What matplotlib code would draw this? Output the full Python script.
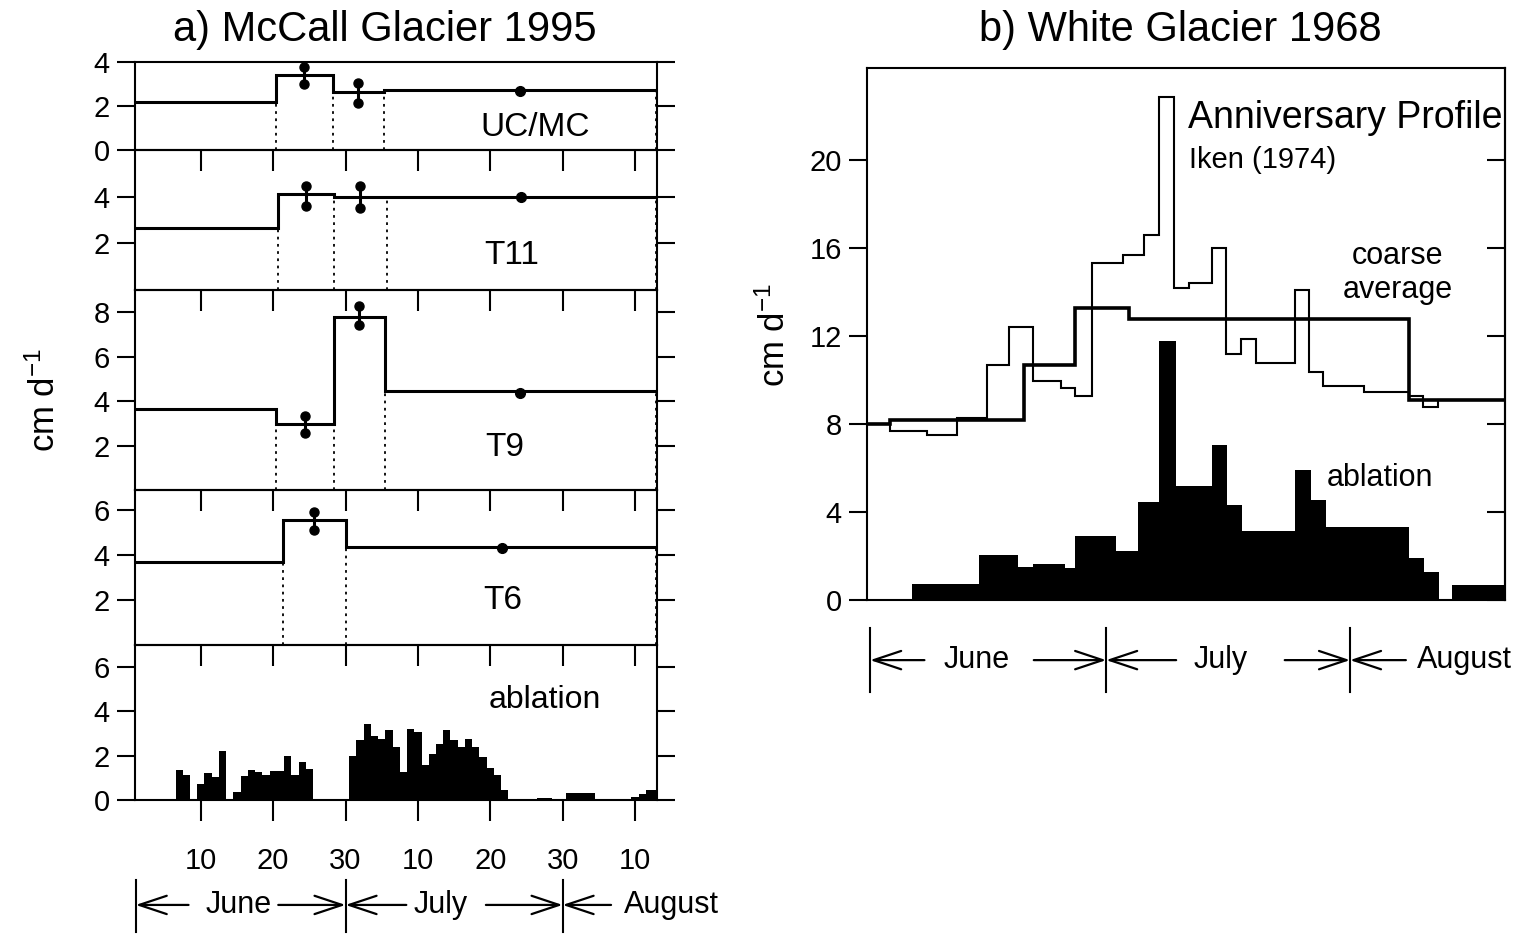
import numpy as np
import matplotlib
matplotlib.use('Agg')
import matplotlib.pyplot as plt
from matplotlib import transforms

plt.rcParams['font.family'] = ['Liberation Sans', 'DejaVu Sans']
plt.rcParams['mathtext.fontset'] = 'custom'
plt.rcParams['mathtext.rm'] = 'Liberation Sans'
plt.rcParams['mathtext.default'] = 'regular'

# ---------------- a) McCall Glacier 1995 (day 1 = 1 June) ----------------
day_ticks = [10, 20, 30, 40, 50, 60, 70]
day_labels = ['10', '20', '30', '10', '20', '30', '10']
month_edges_a = [1, 30, 60]

# surface speed between surveys, cm/d
ucmc_edges = [0.9, 20.4, 28.2, 35.3, 72.9]
ucmc_speed = [2.18, 3.4, 2.65, 2.72]
ucmc_err_x = [24.3, 31.75]
ucmc_err_lo = [3.0, 2.15]
ucmc_err_hi = [3.77, 3.03]
ucmc_dot = (54.1, 2.69)

t11_edges = [0.9, 20.6, 28.4, 35.7, 72.9]
t11_speed = [2.64, 4.1, 4.0, 4.0]
t11_err_x = [24.5, 32.0]
t11_err_lo = [3.61, 3.51]
t11_err_hi = [4.47, 4.47]
t11_dot = (54.3, 4.0)

t9_edges = [0.9, 20.4, 28.4, 35.4, 72.9]
t9_speed = [3.65, 2.97, 7.8, 4.44]
t9_err_x = [24.4, 31.9]
t9_err_lo = [2.55, 7.43]
t9_err_hi = [3.35, 8.29]
t9_dot = (54.1, 4.38)

t6_edges = [0.9, 21.3, 30.1, 72.9]
t6_speed = [3.7, 5.56, 4.37]
t6_err_x = [25.7]
t6_err_lo = [5.11]
t6_err_hi = [5.93]
t6_dot = (51.6, 4.33)

site_names = ['UC/MC', 'T11', 'T9', 'T6']
site_ylims = [4, 6, 9, 6.9]
site_yticks = [[0, 2, 4], [2, 4], [2, 4, 6, 8], [2, 4, 6]]

# daily ablation, cm/d
ablation_a_days = np.arange(1, 74)
ablation_a = [0, 0, 0, 0, 0, 0, 1.35, 1.15, 0, 0.72,
              1.2, 1.05, 2.2, 0, 0.35, 1.08, 1.35, 1.27, 1.15, 1.32,
              1.32, 2.0, 1.12, 1.7, 1.42, 0, 0, 0, 0, 0,
              1.98, 2.7, 3.45, 2.9, 2.77, 3.18, 2.4, 1.27, 3.22, 3.05,
              1.57, 2.1, 2.55, 3.15, 2.7, 2.4, 2.74, 2.4, 1.95, 1.45,
              1.12, 0.45, 0, 0, 0, 0, 0.07, 0.07, 0, 0,
              0.3, 0.33, 0.33, 0.3, 0, 0, 0, 0, 0, 0.15,
              0.27, 0.45, 0.45]

# ---------------- b) White Glacier 1968 (0 = 1 June) ----------------
month_edges_b = [0, 30, 61]

profile_edges = [-0.4, 2.48, 7.26, 11.0, 14.8, 17.7, 20.7, 24.2, 26.1, 28.2,
                 32.1, 34.8, 36.7, 38.6, 40.5, 43.5, 45.2, 47.2, 49.0, 54.0,
                 55.8, 57.6, 62.8, 68.5, 70.3, 72.2, 80.7]
profile_speed = [8.0, 7.7, 7.5, 8.3, 10.7, 12.4, 9.97, 9.63, 9.3, 15.35,
                 15.7, 16.6, 22.9, 14.2, 14.4, 16.0, 11.2, 11.86, 10.76, 14.1,
                 10.35, 9.75, 9.45, 9.3, 8.8, 9.08]

coarse_edges = [-0.4, 2.48, 19.6, 26.1, 32.9, 68.5, 80.7]
coarse_speed = [8.0, 8.2, 10.7, 13.3, 12.8, 9.1]

ablation_b_edges = [5.36, 13.9, 18.8, 20.7, 24.75, 26.1, 31.3, 34.0, 36.7, 38.9,
                    43.5, 45.4, 47.3, 54.0, 56.0, 57.9, 68.5, 70.4, 72.3, 73.9, 80.7]
ablation_b = [0.72, 2.05, 1.5, 1.65, 1.46, 2.9, 2.23, 4.44, 11.8, 5.2,
              7.05, 4.34, 3.16, 5.9, 4.56, 3.3, 1.91, 1.28, 0.0, 0.68]

sites = [
    dict(edges=ucmc_edges, speed=ucmc_speed, ex=ucmc_err_x, lo=ucmc_err_lo, hi=ucmc_err_hi, dot=ucmc_dot),
    dict(edges=t11_edges, speed=t11_speed, ex=t11_err_x, lo=t11_err_lo, hi=t11_err_hi, dot=t11_dot),
    dict(edges=t9_edges, speed=t9_speed, ex=t9_err_x, lo=t9_err_lo, hi=t9_err_hi, dot=t9_dot),
    dict(edges=t6_edges, speed=t6_speed, ex=t6_err_x, lo=t6_err_lo, hi=t6_err_hi, dot=t6_dot),
]
site_label_pos = [(0.766, 0.25), (0.722, 0.25), (0.709, 0.21), (0.705, 0.284)]

W, H = 1530, 935
fig = plt.figure(figsize=(W / 100, H / 100), dpi=100)


def month_bracket(ax, edges, names, name_x, arrows, y, bar_lo, bar_hi):
    trans = transforms.blended_transform_factory(ax.transData, ax.transAxes)
    for e in edges:
        ax.plot([e, e], [bar_lo, bar_hi], transform=trans, color='k', lw=1.5, clip_on=False)
    for name, x in zip(names, name_x):
        ax.text(x, y, name, transform=trans, ha='center', va='center', fontsize=22, clip_on=False)
    for x0, x1 in arrows:
        ax.annotate('', xy=(x1, y), xytext=(x0, y), xycoords=trans, textcoords=trans,
                    arrowprops=dict(arrowstyle='->,head_length=0.9,head_width=0.3', lw=1.6,
                                    color='k', shrinkA=0, shrinkB=0, mutation_scale=22),
                    annotation_clip=False)


# ---- left stack ----
gs = fig.add_gridspec(5, 1, left=135 / W, right=657 / W, top=1 - 62 / H, bottom=1 - 800 / H,
                      height_ratios=[88, 140, 200, 155, 155], hspace=0)
axes_a = [fig.add_subplot(gs[i]) for i in range(5)]

for i, ax in enumerate(axes_a):
    ax.patch.set_visible(False)
    ax.set_xlim(0.9, 73.05)
    ax.set_xticks(day_ticks)
    for s in ax.spines.values():
        s.set_linewidth(1.5)
    ax.tick_params(axis='y', direction='out', left=True, right=True, length=13, width=1.5,
                   labelsize=21, pad=5)
    ax.tick_params(axis='x', direction='out', bottom=True, top=False, length=15, width=1.5,
                   labelbottom=(i == 4), labelsize=21, pad=19)

for ax, site, name, ytop, yt, lp in zip(axes_a[:4], sites, site_names, site_ylims,
                                        site_yticks, site_label_pos):
    v = site['speed']
    ax.stairs(v, site['edges'], baseline=None, color='k', lw=2.2)
    tops = [min(v[k], v[k + 1]) if k + 1 < len(v) else v[k] for k in range(len(v))]
    ax.vlines(site['edges'][1:], 0, tops, colors='k', linestyles=(0, (1.5, 2.5)), lw=1.3)
    for x, lo, hi in zip(site['ex'], site['lo'], site['hi']):
        ax.plot([x, x], [lo, hi], '-o', color='k', lw=2.2, ms=6.5)
    ax.plot(*site['dot'], 'o', color='k', ms=7)
    ax.set_ylim(0, ytop)
    ax.set_yticks(yt)
    ax.text(lp[0], lp[1], name, transform=ax.transAxes, ha='center', va='center', fontsize=24)

ax_abl = axes_a[4]
ax_abl.bar(ablation_a_days, ablation_a, width=1.0, color='k', linewidth=0)
ax_abl.set_ylim(0, 7)
ax_abl.set_yticks([0, 2, 4, 6])
ax_abl.set_xticklabels(day_labels)
ax_abl.text(0.785, 0.645, 'ablation', transform=ax_abl.transAxes, ha='center', va='center', fontsize=23)

month_bracket(ax_abl, month_edges_a, ['June', 'July', 'August'], [15.2, 43.1, 75.1],
              [(8.3, 1), (20.7, 30), (38.4, 30), (49.4, 60), (66.7, 60)],
              y=-0.677, bar_lo=-0.516, bar_hi=-0.852)

fig.text(385 / W, 1 - 30 / H, 'a) McCall Glacier 1995', ha='center', va='center', fontsize=30)
fig.text(45 / W, 1 - 400 / H, 'cm d$^{-1}$', rotation=90, ha='center', va='center', fontsize=25)

# ---- right panel ----
ax_b = fig.add_axes([867 / W, 1 - 600 / H, (1505 - 867) / W, (600 - 68) / H])
ax_b.bar(ablation_b_edges[:-1], ablation_b, width=np.diff(ablation_b_edges), align='edge',
         color='k', linewidth=0)
ax_b.stairs(profile_speed, profile_edges, baseline=None, color='k', lw=1.5)
ax_b.stairs(coarse_speed, coarse_edges, baseline=None, color='k', lw=2.6)
ax_b.set_xlim(-0.4, 80.7)
ax_b.set_ylim(0, 24.2)
ax_b.set_xticks([])
ax_b.set_yticks([0, 4, 8, 12, 16, 20])
for s in ax_b.spines.values():
    s.set_linewidth(1.5)
ax_b.tick_params(axis='y', direction='out', length=13, width=1.5, labelsize=21, pad=5)
sec = ax_b.secondary_yaxis('right')
sec.set_yticks([0, 4, 8, 12, 16, 20])
sec.tick_params(direction='in', length=13, width=1.5, labelright=False)
sec.spines['right'].set_linewidth(1.5)

ax_b.text(0.503, 0.906, 'Anniversary Profile', transform=ax_b.transAxes, ha='left', va='center', fontsize=27)
ax_b.text(0.505, 0.827, 'Iken (1974)', transform=ax_b.transAxes, ha='left', va='center', fontsize=21)
ax_b.text(0.832, 0.615, 'coarse\naverage', transform=ax_b.transAxes, ha='center', va='center',
          fontsize=22, linespacing=1.15)
ax_b.text(0.804, 0.229, 'ablation', transform=ax_b.transAxes, ha='center', va='center', fontsize=22)

month_bracket(ax_b, month_edges_b, ['June', 'July', 'August'], [13.6, 44.5, 75.6],
              [(6.9, 0), (20.8, 30), (38.9, 30), (52.7, 61), (68.1, 61)],
              y=-0.113, bar_lo=-0.053, bar_hi=-0.173)

fig.text(1180 / W, 1 - 30 / H, 'b) White Glacier 1968', ha='center', va='center', fontsize=30)
fig.text(775 / W, 1 - 335 / H, 'cm d$^{-1}$', rotation=90, ha='center', va='center', fontsize=25)

fig.savefig('out.png', dpi=100)
